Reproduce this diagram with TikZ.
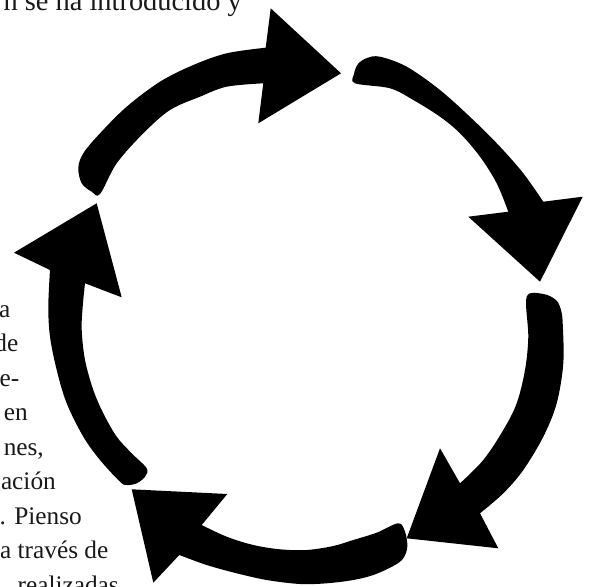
\documentclass[tikz,border=0pt]{standalone}
\usepackage{fontspec}
\setmainfont{Liberation Serif}
\begin{document}
\begin{tikzpicture}[x=1pt,y=-1pt,
  txt/.style={inner sep=0pt, anchor=base east, font=\fontsize{25.3}{30}\selectfont, text=black!90},
  cyc/.style={fill=black}]
\useasboundingbox (0,0) rectangle (594,586);
% top arrow
\fill[cyc] plot[smooth, tension=0.55] coordinates {(263.3,83.3) (226.7,86.7) (200,96.7) (170,110) (143.3,133.3) (116.7,163.3) (100,194) (91.7,191.7) (81.7,183.3) (78.3,168) (83.3,153.3) (100,133.3) (126.7,106.7) (160,81.7) (193.3,65) (226.7,53.3) (265.7,47.7)}
  -- (270.7,8.3) -- (341,73.3) -- (258.3,123.3) -- cycle;
% right arrow
\fill[cyc] plot[smooth, tension=0.55] coordinates {(508.3,211.7) (496.7,183.3) (480,156.7) (460,133.3) (440,116.7) (413.3,100) (390,88.3) (355,83.3) (354,74) (358,64) (367,58) (380,56.7) (406.7,66.7) (440,90) (473.3,120) (500,146.7) (523.3,173.3) (543.3,201.7)}
  -- (582.7,196.7) -- (540,281.7) -- (468.3,216.7) -- cycle;
% lower right arrow
\fill[cyc] plot[smooth, tension=0.55] coordinates {(460,483.3) (483.3,460) (503.3,430) (516.7,403.3) (525,370) (528.3,336.7) (526.7,296.7) (543.3,294) (556,300) (561,310) (562.7,323.3) (563.3,363.3) (556.7,403.3) (543.3,436.7) (523.3,470) (503.3,493.3) (480,513.3)}
  -- (498.3,548.3) -- (406.7,538.3) -- (440,448.3) -- cycle;
% bottom arrow
\fill[cyc] plot[smooth, tension=0.55] coordinates {(201.7,525) (226.7,536.7) (253.3,545) (280,549.3) (306.7,550) (333.3,546) (353.3,540) (376.7,532.7) (398.3,523.3) (405,531.7) (407.3,546.7) (403.3,558.3) (393.3,566) (373.3,575) (353.3,580) (326.7,583.3) (300,584) (266.7,580) (236.7,573.3) (206.7,565) (179.3,555)}
  -- (153.3,582.7) -- (131.7,489.3) -- (227.3,494) -- cycle;
% left arrow
\fill[cyc] plot[smooth, tension=0.55] coordinates {(85,283.3) (82.7,306.7) (81.7,330) (85,360) (93.3,390) (103.3,413.3) (116.7,436.7) (131.7,453.3) (146.7,468.3) (145,476.7) (136.7,483.3) (126.7,485) (120,481.7) (100,460) (83.3,436.7) (66.7,403.3) (56.7,370) (50,336.7) (48.3,306.7) (50,270)}
  -- (14,252.7) -- (96.7,203.3) -- (121.7,297.3) -- cycle;
% text fragments
\node[txt, font=\fontsize{28.4}{33}\selectfont] (t0) at (242,10.5) {n se ha introducido y};
\node[txt] (t1) at (10.5,317) {a};
\node[txt] (t2) at (18.5,351.5) {de};
\node[txt] (t3) at (19.5,386) {e-};
\node[txt] (t4) at (28,420.5) {en};
\node[txt] (t5) at (44,455) {nes,};
\node[txt] (t6) at (56,489.5) {ación};
\node[txt] (t7) at (82,524) {. Pienso};
\node[txt] (t8) at (108.5,558.5) {a través de};
\node[txt] (t9) at (119,593) {realizadas};
\end{tikzpicture}
\end{document}
